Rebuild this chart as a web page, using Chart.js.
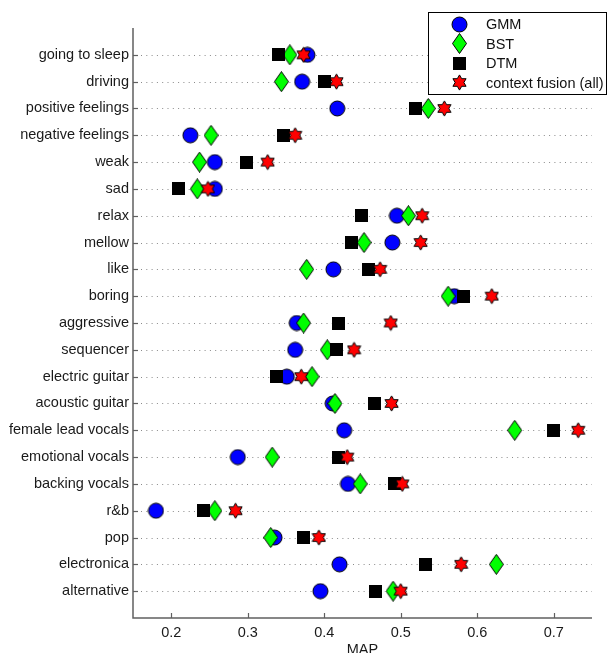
<!DOCTYPE html>
<html>
<head>
<meta charset="utf-8">
<script src="https://cdn.jsdelivr.net/npm/chart.js@4/dist/chart.umd.min.js"></script>
<style>
html,body{margin:0;padding:0;background:#fff;}
#wrap{width:608px;height:653px;position:relative;}
</style>
</head>
<body>
<div id="wrap"><canvas id="c"></canvas></div>
<script>
const categories = ['going to sleep','driving','positive feelings','negative feelings','weak','sad','relax','mellow','like','boring','aggressive','sequencer','electric guitar','acoustic guitar','female lead vocals','emotional vocals','backing vocals','r&b','pop','electronica','alternative'];
const gmm    = [0.378,0.371,0.417,0.225,0.257,0.257,0.495,0.489,0.412,0.570,0.364,0.362,0.351,0.411,0.426,0.287,0.431,0.180,0.335,0.420,0.395];
const bst    = [0.355,0.344,0.536,0.252,0.237,0.234,0.510,0.452,0.377,0.562,0.373,0.404,0.384,0.414,0.649,0.332,0.447,0.257,0.330,0.625,0.490];
const dtm    = [0.340,0.400,0.519,0.347,0.298,0.209,0.449,0.436,0.458,0.582,0.418,0.416,0.337,0.466,0.700,0.419,0.492,0.242,0.373,0.533,0.467];
const fusion = [0.373,0.416,0.557,0.362,0.326,0.248,0.528,0.526,0.473,0.619,0.487,0.439,0.370,0.488,0.732,0.430,0.502,0.284,0.393,0.579,0.500];
const xTicks = [0.2,0.3,0.4,0.5,0.6,0.7];
const seriesNames = ['GMM','BST','DTM','context fusion (all)'];
const axisTitle = 'MAP';
const FONT = '"Liberation Sans", Arial, sans-serif';

function mk(w,h,draw){const c=document.createElement('canvas');c.width=w;c.height=h;draw(c.getContext('2d'));return c;}
const circleImg = mk(17,17,ctx=>{ctx.beginPath();ctx.arc(8.5,8.5,7.5,0,Math.PI*2);ctx.fillStyle='#0000ff';ctx.fill();ctx.lineWidth=1;ctx.strokeStyle='#000';ctx.stroke();});
const diamondImg = mk(15,21,ctx=>{ctx.beginPath();ctx.moveTo(7.5,0.5);ctx.lineTo(14.5,10.5);ctx.lineTo(7.5,20.5);ctx.lineTo(0.5,10.5);ctx.closePath();ctx.fillStyle='#00ff00';ctx.fill();ctx.lineWidth=1;ctx.strokeStyle='#000';ctx.stroke();});
const squareImg = mk(13,13,ctx=>{ctx.fillStyle='#000';ctx.fillRect(0,0,13,13);});
const starImg = mk(15,17,ctx=>{const cx=7.5,cy=8.5,R=7.6,r=R/Math.sqrt(3);ctx.beginPath();for(let k=0;k<12;k++){const a=(-90+k*30)*Math.PI/180;const rr=k%2===0?R:r;const px=cx+rr*Math.cos(a),py=cy+rr*Math.sin(a);if(k===0)ctx.moveTo(px,py);else ctx.lineTo(px,py);}ctx.closePath();ctx.fillStyle='#ff0000';ctx.fill();ctx.lineWidth=1;ctx.strokeStyle='#000';ctx.stroke();});
const styles=[circleImg,diamondImg,squareImg,starImg];

function pts(arr){return arr.map((v,i)=>({x:v,y:i}));}

const decor = {
  id:'decor',
  beforeDatasetsDraw(chart){
    const ctx=chart.ctx, a=chart.chartArea, xs=chart.scales.x, ys=chart.scales.y;
    ctx.save();
    ctx.strokeStyle='#8a8a8a';ctx.lineWidth=1;ctx.setLineDash([1,4.3]);
    categories.forEach((c,i)=>{const y=Math.round(ys.getPixelForValue(i))+0.5;ctx.beginPath();ctx.moveTo(a.left+8,y);ctx.lineTo(a.right,y);ctx.stroke();});
    ctx.setLineDash([]);
    ctx.strokeStyle='#606060';ctx.lineWidth=1.5;
    ctx.beginPath();ctx.moveTo(a.left,a.top);ctx.lineTo(a.left,a.bottom);ctx.lineTo(a.right,a.bottom);ctx.stroke();
    ctx.lineWidth=1.2;
    categories.forEach((c,i)=>{const y=Math.round(ys.getPixelForValue(i))+0.5;ctx.beginPath();ctx.moveTo(a.left,y);ctx.lineTo(a.left+5,y);ctx.stroke();});
    xTicks.forEach(v=>{const x=Math.round(xs.getPixelForValue(v))+0.5;ctx.beginPath();ctx.moveTo(x,a.bottom);ctx.lineTo(x,a.bottom-5);ctx.stroke();});
    ctx.restore();
  },
  afterDraw(chart){
    const ctx=chart.ctx, a=chart.chartArea;
    ctx.save();
    ctx.font='14.5px '+FONT;ctx.fillStyle='#1a1a1a';ctx.textAlign='center';ctx.textBaseline='alphabetic';
    ctx.fillText(axisTitle,(a.left+a.right)/2,653.5);
    const bx=428.5,by=12.5,bw=178,bh=82;
    ctx.fillStyle='#fff';ctx.fillRect(bx,by,bw,bh);
    ctx.strokeStyle='#000';ctx.lineWidth=1;ctx.strokeRect(bx,by,bw,bh);
    ctx.font='14.5px '+FONT;ctx.fillStyle='#111';ctx.textBaseline='middle';ctx.textAlign='left';
    const rows=[24,43.7,63.3,82.7];
    seriesNames.forEach((n,i)=>{const im=styles[i];ctx.drawImage(im,Math.round(459-im.width/2),Math.round(rows[i]-im.height/2));ctx.fillText(n,486,rows[i]+1);});
    ctx.restore();
  }
};

new Chart(document.getElementById('c'),{
  type:'scatter',
  data:{datasets:[
    {label:seriesNames[0],data:pts(gmm),pointStyle:circleImg,order:4},
    {label:seriesNames[1],data:pts(bst),pointStyle:diamondImg,order:3},
    {label:seriesNames[2],data:pts(dtm),pointStyle:squareImg,order:2},
    {label:seriesNames[3],data:pts(fusion),pointStyle:starImg,order:1}
  ]},
  options:{
    responsive:true,maintainAspectRatio:false,animation:false,
    layout:{padding:{left:0,right:16,top:28,bottom:0}},
    plugins:{legend:{display:false},tooltip:{enabled:false}},
    scales:{
      x:{type:'linear',min:0.15,max:0.75,
        afterBuildTicks(s){s.ticks=xTicks.map(v=>({value:v}));},
        afterFit(s){s.height=35;},
        grid:{display:false,drawTicks:false},border:{display:false},
        ticks:{padding:6,color:'#1a1a1a',font:{family:FONT,size:14.5},callback:v=>v.toFixed(1),maxRotation:0},
        title:{display:false}
      },
      y:{type:'linear',min:-1,max:21,reverse:true,
        afterBuildTicks(s){s.ticks=categories.map((c,i)=>({value:i}));},
        afterFit(s){s.width=133;},
        grid:{display:false,drawTicks:false},border:{display:false},
        ticks:{padding:4,color:'#1a1a1a',font:{family:FONT,size:14.5},callback:v=>categories[v]||'',autoSkip:false}
      }
    }
  },
  plugins:[decor]
});
</script>
</body>
</html>
